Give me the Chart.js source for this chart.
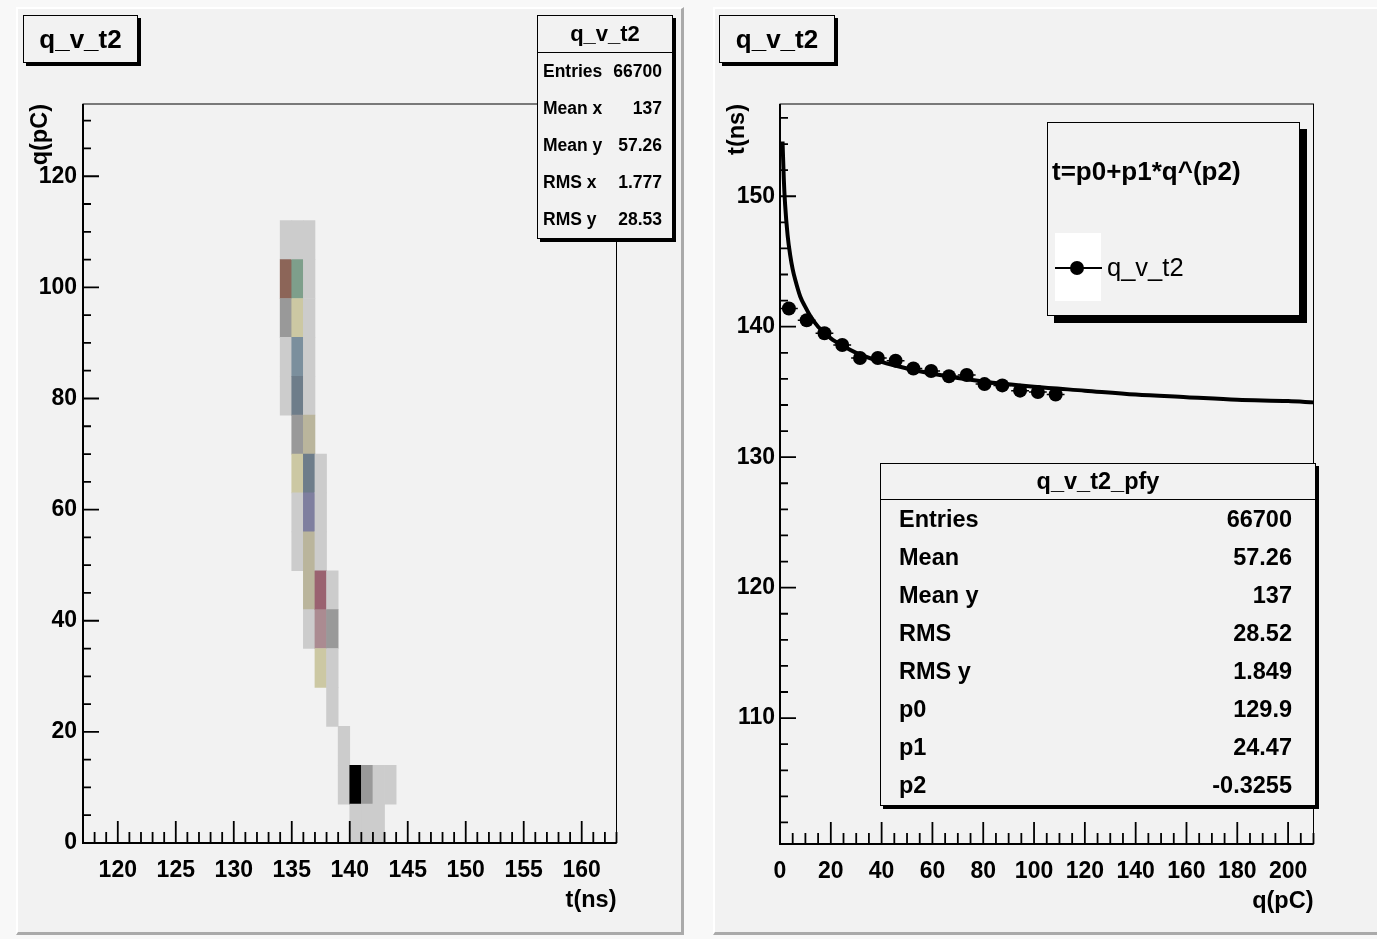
<!DOCTYPE html>
<html lang="en">
<head>
  <meta charset="UTF-8">
  <title>q_v_t2</title>
  <script src="https://cdn.jsdelivr.net/npm/chart.js"></script>
  <style>
    html, body {
      margin: 0;
      padding: 0;
      width: 1377px;
      height: 939px;
      overflow: hidden;
      background: #f8f8f8;
      font-family: "Liberation Sans", Arial, sans-serif;
      color: #000;
    }
    .pad {
      position: absolute;
      top: 7px;
      width: 668px;
      height: 928px;
      box-sizing: border-box;
      background: #f2f2f2;
      border-left: 2px solid #fff;
      border-top: 2px solid #fff;
      border-right: 3px solid #aaa;
      border-bottom: 3px solid #aaa;
    }
    canvas { position: absolute; top: 7px; }
    .box {
      position: absolute;
      box-sizing: border-box;
      background: #f2f2f2;
      border: 1.5px solid #000;
      box-shadow: 3px 3px 0 #000;
      font-weight: bold;
    }
    .title {
      display: flex;
      align-items: center;
      justify-content: center;
      font-size: 26px;
    }
    .stats { display: flex; flex-direction: column; }
    .stats .head {
      flex: none;
      box-sizing: border-box;
      display: flex;
      align-items: center;
      justify-content: center;
      border-bottom: 1.5px solid #000;
    }
    .stats .row {
      flex: 1;
      display: flex;
      align-items: center;
      justify-content: space-between;
    }
    #statsL .head { height: 37px; font-size: 22px; }
    #statsL .row { font-size: 17.5px; padding: 0 10px 0 5px; }
    #statsR .head { height: 36px; font-size: 23.5px; }
    #statsR .row { font-size: 23.5px; padding: 0 23px 0 18px; }
    #legend { box-shadow: 7px 7px 0 #000; }
    #legend .ltitle { position: absolute; left: 4px; top: 30px; height: 36px; line-height: 36px; font-size: 26px; white-space: nowrap; }
    #legend .lsym { position: absolute; left: 6.5px; top: 110px; width: 46px; height: 68px; background: #fff; }
    #legend .lline { position: absolute; left: 6.5px; top: 144px; width: 47px; height: 1.5px; background: #000; }
    #legend .ldot { position: absolute; left: 22px; top: 137.5px; width: 14px; height: 14px; border-radius: 50%; background: #000; }
    #legend .ltext { position: absolute; left: 59px; top: 127px; height: 34px; line-height: 34px; font-size: 25.5px; font-weight: normal; }
  </style>
</head>
<body>
  <div class="pad" style="left:16px"></div>
  <div class="pad" style="left:713px"></div>
  <canvas id="histChart" width="668" height="928" style="left:16px"></canvas>
  <canvas id="profChart" width="668" height="928" style="left:713px"></canvas>

  <div class="box title" style="left:23px;top:15px;width:115px;height:48px">q_v_t2</div>
  <div class="box title" style="left:719px;top:15px;width:116px;height:48px">q_v_t2</div>
  <div class="box stats" id="statsL" style="left:537px;top:15px;width:136px;height:224px"></div>
  <div class="box stats" id="statsR" style="left:880px;top:463px;width:436px;height:343px"></div>
  <div class="box" id="legend" style="left:1047px;top:122px;width:253px;height:194px">
    <div class="ltitle">t=p0+p1*q^(p2)</div>
    <div class="lsym"></div>
    <div class="lline"></div>
    <div class="ldot"></div>
    <div class="ltext">q_v_t2</div>
  </div>

  <script>
    // 2D histogram q vs t: lower bin edges and colour level of each filled cell
    const tBinWidth = 1;   // ns
    const qBinWidth = 7;   // pC
    const histT = [134, 134, 134, 134, 134,
                   135, 135, 135, 135, 135, 135, 135, 135, 135,
                   136, 136, 136, 136, 136, 136, 136, 136, 136, 136, 136,
                   137, 137, 137, 137, 137, 137,
                   138, 138, 138, 138,
                   139, 139,
                   140, 140,
                   141, 141,
                   142, 142,
                   143];
    const histQ = [105, 98, 91, 84, 77,
                   105, 98, 91, 84, 77, 70, 63, 56, 49,
                   105, 98, 91, 84, 77, 70, 63, 56, 49, 42, 35,
                   63, 56, 49, 42, 35, 28,
                   42, 35, 28, 21,
                   14, 7,
                   7, 0,
                   7, 0,
                   7, 0,
                   7];
    const histLevel = [1, 10, 2, 1, 1,
                       1, 9, 3, 6, 7, 2, 3, 1, 1,
                       1, 1, 1, 1, 1, 4, 7, 8, 4, 4, 1,
                       1, 1, 1, 11, 5, 3,
                       1, 2, 1, 1,
                       1, 1,
                       12, 1,
                       2, 1,
                       1, 1,
                       1];

    // profile of t vs q and the fitted curve t=p0+p1*q^(p2)
    const profQ = [3.5, 10.5, 17.5, 24.5, 31.5, 38.5, 45.5, 52.5, 59.5, 66.5, 73.5, 80.5, 87.5, 94.5, 101.5, 108.5];
    const profT = [141.4, 140.5, 139.5, 138.6, 137.6, 137.6, 137.4, 136.8, 136.6, 136.2, 136.3, 135.6, 135.5, 135.1, 135.0, 134.8];
    const fitQ = [1, 1.5, 2, 3, 4, 5, 6, 8, 10, 12, 15, 20, 25, 30, 40, 50, 60, 80, 100, 120, 140, 160, 180, 200, 210];
    const fitT = [154.2, 151.3, 149.4, 147.0, 145.5, 144.4, 143.6, 142.3, 141.5, 140.8, 140.0, 139.1, 138.5, 138.0,
                  137.3, 136.8, 136.4, 135.8, 135.4, 135.1, 134.8, 134.6, 134.4, 134.3, 134.2];

    // axis ticks
    const histXTicks = [120, 125, 130, 135, 140, 145, 150, 155, 160];
    const histYTicks = [0, 20, 40, 60, 80, 100, 120];
    const profXTicks = [0, 20, 40, 60, 80, 100, 120, 140, 160, 180, 200];
    const profYTicks = [110, 120, 130, 140, 150];

    // stats boxes
    const statsLTitle = 'q_v_t2';
    const statsLLabels = ['Entries', 'Mean x', 'Mean y', 'RMS x', 'RMS y'];
    const statsLValues = ['66700', '137', '57.26', '1.777', '28.53'];
    const statsRTitle = 'q_v_t2_pfy';
    const statsRLabels = ['Entries', 'Mean', 'Mean y', 'RMS', 'RMS y', 'p0', 'p1', 'p2'];
    const statsRValues = ['66700', '57.26', '137', '28.52', '1.849', '129.9', '24.47', '-0.3255'];

    // colour for each level of the histogram
    const palette = {
      1: '#cccccc', 2: '#999999', 3: '#ccc8a3', 4: '#bab59c', 5: '#ab8b91', 6: '#7b8f9d',
      7: '#6e7d8a', 8: '#7f7f9f', 9: '#7e9f8b', 10: '#8c6558', 11: '#9a6270', 12: '#000000'
    };

    function fillStats(id, title, labels, values) {
      const box = document.getElementById(id);
      const head = document.createElement('div');
      head.className = 'head';
      head.textContent = title;
      box.appendChild(head);
      labels.forEach((label, i) => {
        const row = document.createElement('div');
        row.className = 'row';
        const l = document.createElement('span');
        l.textContent = label;
        const v = document.createElement('span');
        v.textContent = values[i];
        row.appendChild(l);
        row.appendChild(v);
        box.appendChild(row);
      });
    }
    fillStats('statsL', statsLTitle, statsLLabels, statsLValues);
    fillStats('statsR', statsRTitle, statsRLabels, statsRValues);

    const tickFont = { family: 'Liberation Sans', weight: 'bold', size: 23 };
    const titleFont = { family: 'Liberation Sans', weight: 'bold', size: 23.5 };

    // ROOT style frame: thin box, heavier axis lines, ticks pointing inwards
    const rootAxes = {
      id: 'rootAxes',
      afterDatasetsDraw(chart, args, opts) {
        const { ctx, chartArea: a, scales: { x, y } } = chart;
        ctx.save();
        ctx.strokeStyle = '#000';
        ctx.lineWidth = 1;
        ctx.strokeRect(a.left, a.top, a.right - a.left, a.bottom - a.top);
        ctx.lineWidth = 1.8;
        ctx.beginPath();
        const k0x = Math.ceil(x.min / opts.xMinor - 1e-9), k1x = Math.floor(x.max / opts.xMinor + 1e-9);
        for (let k = k0x; k <= k1x; k++) {
          const v = k * opts.xMinor;
          const major = Math.abs(v / opts.xMajor - Math.round(v / opts.xMajor)) < 1e-6;
          const px = x.getPixelForValue(v);
          ctx.moveTo(px, a.bottom);
          ctx.lineTo(px, a.bottom - (major ? 22 : 11));
        }
        const k0y = Math.ceil(y.min / opts.yMinor - 1e-9), k1y = Math.floor(y.max / opts.yMinor + 1e-9);
        for (let k = k0y; k <= k1y; k++) {
          const v = k * opts.yMinor;
          const major = Math.abs(v / opts.yMajor - Math.round(v / opts.yMajor)) < 1e-6;
          const py = y.getPixelForValue(v);
          ctx.moveTo(a.left, py);
          ctx.lineTo(a.left + (major ? 16 : 8), py);
        }
        ctx.stroke();
        ctx.lineWidth = 2;
        ctx.beginPath();
        ctx.moveTo(a.left, a.top);
        ctx.lineTo(a.left, a.bottom);
        ctx.lineTo(a.right, a.bottom);
        ctx.stroke();
        ctx.restore();
      }
    };

    // horizontal error bars (bin width) under the profile markers
    const xErrors = {
      id: 'xErrors',
      beforeDatasetsDraw(chart) {
        const { ctx, scales: { x, y } } = chart;
        ctx.save();
        ctx.strokeStyle = '#000';
        ctx.lineWidth = 1.5;
        ctx.beginPath();
        profQ.forEach((q, i) => {
          const py = y.getPixelForValue(profT[i]);
          ctx.moveTo(x.getPixelForValue(q - qBinWidth / 2), py);
          ctx.lineTo(x.getPixelForValue(q + qBinWidth / 2), py);
        });
        ctx.stroke();
        ctx.restore();
      }
    };

    function axis(min, max, ticks, title, size, pad) {
      return {
        type: 'linear',
        min: min,
        max: max,
        offset: false,
        grid: { display: false, drawTicks: false, offset: false },
        border: { display: false },
        ticks: { font: tickFont, color: '#000', padding: pad, maxRotation: 0, autoSkip: false },
        afterBuildTicks: s => { s.ticks = ticks.map(v => ({ value: v })); },
        afterFit: s => {
          if (s.isHorizontal()) s.height = size; else s.width = size;
        },
        title: { display: true, text: title, align: 'end', font: titleFont, color: '#000', padding: 0 }
      };
    }

    const common = {
      responsive: false,
      animation: false,
      events: [],
      plugins: { legend: { display: false }, tooltip: { enabled: false } }
    };

    new Chart(document.getElementById('histChart').getContext('2d'), {
      type: 'bar',
      data: {
        datasets: [{
          data: histT.map((t, i) => ({ x: t + tBinWidth / 2, y: [histQ[i], histQ[i] + qBinWidth] })),
          backgroundColor: histLevel.map(l => palette[l]),
          borderWidth: 0,
          barPercentage: 1,
          categoryPercentage: 1
        }]
      },
      options: Object.assign({}, common, {
        layout: { padding: { left: 10, top: 97, right: 67.5, bottom: 20 } },
        scales: {
          x: axis(117, 163, histXTicks, 't(ns)', 72, 14),
          y: axis(0, 133, histYTicks, 'q(pC)', 57, 6)
        },
        plugins: Object.assign({}, common.plugins, {
          rootAxes: { xMinor: 1, xMajor: 5, yMinor: 5, yMajor: 20 }
        })
      }),
      plugins: [rootAxes]
    });

    new Chart(document.getElementById('profChart').getContext('2d'), {
      type: 'scatter',
      data: {
        datasets: [
          {
            data: profQ.map((q, i) => ({ x: q, y: profT[i] })),
            pointRadius: 7,
            pointBackgroundColor: '#000',
            pointBorderColor: '#000',
            pointBorderWidth: 0,
            showLine: false
          },
          {
            data: fitQ.map((q, i) => ({ x: q, y: fitT[i] })),
            showLine: true,
            pointRadius: 0,
            borderColor: '#000',
            borderWidth: 4,
            cubicInterpolationMode: 'monotone'
          }
        ]
      },
      options: Object.assign({}, common, {
        layout: { padding: { left: 10, top: 97, right: 67.5, bottom: 19 } },
        scales: {
          x: axis(0, 210, profXTicks, 'q(pC)', 72, 14),
          y: axis(100.35, 157.07, profYTicks, 't(ns)', 57, 5)
        },
        plugins: Object.assign({}, common.plugins, {
          rootAxes: { xMinor: 5, xMajor: 20, yMinor: 2, yMajor: 10 }
        })
      }),
      plugins: [xErrors, rootAxes]
    });
  </script>
</body>
</html>
